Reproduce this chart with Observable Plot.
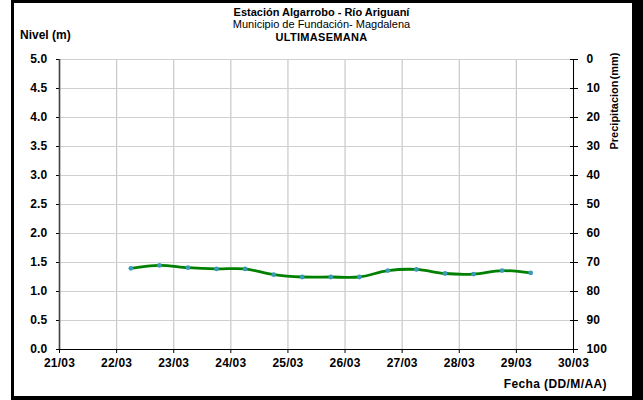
<!DOCTYPE html>
<html>
<head>
<meta charset="utf-8">
<script src="https://cdn.jsdelivr.net/npm/d3@7"></script>
<script src="https://cdn.jsdelivr.net/npm/@observablehq/plot@0.6"></script>
<style>
  html, body { margin: 0; padding: 0; background: #fff; }
  body { width: 643px; height: 400px; position: relative; overflow: hidden; font-family: "Liberation Sans", Arial, sans-serif; }
  #chart { position: absolute; left: 0; top: 0; }
  .t { position: absolute; color: #000; font-size: 11px; white-space: nowrap; line-height: 13px; }
  .frame { position: absolute; left: 11px; top: 0; width: 632px; height: 400px; box-sizing: border-box;
           border-left: 3px solid #000; border-top: 3px solid #000; border-bottom: 4px solid #000; border-right: 11px solid #000; pointer-events: none; }
</style>
</head>
<body>
<div id="chart"></div>
<div class="t" style="left:0;width:643px;text-align:center;top:6px;font-weight:bold;">Estación Algarrobo - Río Ariguaní</div>
<div class="t" style="left:0;width:643px;text-align:center;top:18px;">Municipio de Fundación- Magdalena</div>
<div class="t" style="left:0;width:643px;text-align:center;top:31px;font-weight:bold;letter-spacing:0.3px;">ULTIMASEMANA</div>
<div class="t" style="left:20px;top:29px;font-weight:bold;font-size:12px;">Nivel (m)</div>
<div class="t" style="right:36px;top:378px;font-weight:bold;font-size:12px;letter-spacing:0.4px;">Fecha (DD/M/AA)</div>
<div class="t" style="left:614px;top:101px;font-weight:bold;font-size:11px;word-spacing:-2px;transform:translate(-50%,-50%) rotate(-90deg);">Precipitacion (mm)</div>
<div class="frame"></div>
<script>
// ---- data ----
const times = ["2024-03-22T06:00Z","2024-03-22T18:00Z","2024-03-23T06:00Z","2024-03-23T18:00Z",
               "2024-03-24T06:00Z","2024-03-24T18:00Z","2024-03-25T06:00Z","2024-03-25T18:00Z",
               "2024-03-26T06:00Z","2024-03-26T18:00Z","2024-03-27T06:00Z","2024-03-27T18:00Z",
               "2024-03-28T06:00Z","2024-03-28T18:00Z","2024-03-29T06:00Z"];
const nivel = [1.40, 1.45, 1.41, 1.39, 1.39, 1.29, 1.25, 1.25, 1.25, 1.36, 1.38, 1.31, 1.30, 1.36, 1.32];
const dayTicks = ["2024-03-21","2024-03-22","2024-03-23","2024-03-24","2024-03-25",
                  "2024-03-26","2024-03-27","2024-03-28","2024-03-29","2024-03-30"];
const dayLabels = ["21/03","22/03","23/03","24/03","25/03","26/03","27/03","28/03","29/03","30/03"];
const nivelTicks = [0, 0.5, 1, 1.5, 2, 2.5, 3, 3.5, 4, 4.5, 5];
const precipLabels = [100, 90, 80, 70, 60, 50, 40, 30, 20, 10, 0];

const data = times.map((t, i) => ({date: new Date(t), nivel: nivel[i]}));
const xt = dayTicks.map(d => new Date(d + "T00:00Z"));

const chart = Plot.plot({
  width: 643, height: 400,
  marginLeft: 59, marginRight: 70, marginTop: 59, marginBottom: 51,
  style: {fontFamily: "'Liberation Sans', Arial, sans-serif", fontSize: "12px", fontWeight: "bold", color: "#000", background: "transparent", letterSpacing: "0.2px"},
  x: {type: "utc", domain: [xt[0], xt[xt.length - 1]]},
  y: {domain: [0, 5]},
  marks: [
    Plot.gridX(xt, {stroke: "#c8c8c8", strokeOpacity: 1, strokeWidth: 1.2}),
    Plot.gridY(nivelTicks, {stroke: "#d0d0d0", strokeOpacity: 1, strokeWidth: 1.2}),
    Plot.axisY(nivelTicks, {anchor: "left", tickFormat: d => d.toFixed(1), tickSize: 3, tickPadding: 9, label: null}),
    Plot.axisY(nivelTicks, {anchor: "right", tickFormat: (d, i) => precipLabels[i], tickSize: 4, tickPadding: 9, label: null}),
    Plot.axisY(nivelTicks, {anchor: "right", tickFormat: () => "", tickSize: -4, label: null}),
    Plot.axisX(xt, {anchor: "bottom", tickFormat: (d, i) => dayLabels[i], tickSize: 4, tickPadding: 5, label: null}),
    Plot.ruleX([xt[0]], {stroke: "#444", strokeWidth: 1.6}),
    Plot.ruleX([xt[xt.length - 1]], {stroke: "#000", strokeWidth: 1}),
    Plot.ruleY([0], {stroke: "#000", strokeWidth: 1}),
    Plot.line(data, {x: "date", y: "nivel", curve: "catmull-rom", stroke: "#008000", strokeWidth: 2.8}),
    Plot.dot(data, {x: "date", y: "nivel", r: 2.4, fill: "#3a9ab8", stroke: "none"})
  ]
});
document.getElementById("chart").append(chart);
</script>
</body>
</html>
